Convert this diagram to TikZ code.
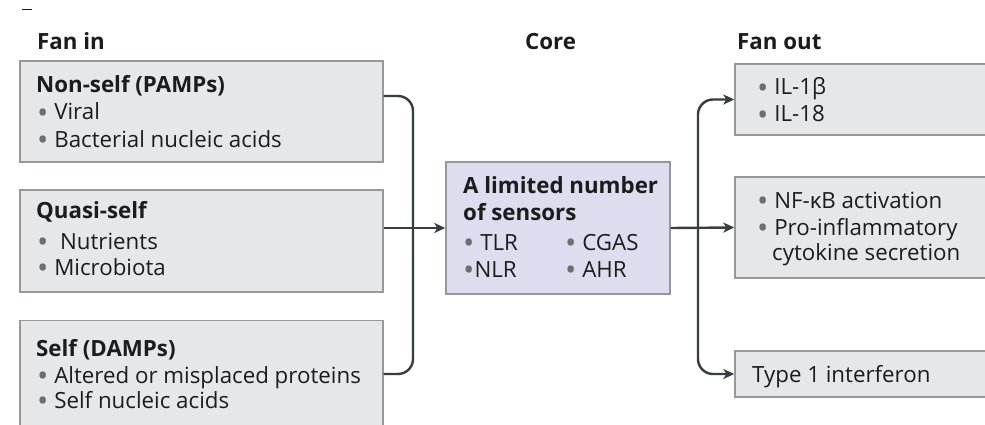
\documentclass[tikz,border=0pt]{standalone}
\usepackage{fontspec}
\usepackage{graphicx}
\setmainfont{Open Sans}
\usetikzlibrary{arrows.meta}

\definecolor{boxfill}{RGB}{229,231,233}
\definecolor{boxline}{RGB}{150,152,154}
\definecolor{corefill}{RGB}{220,222,240}
\definecolor{coreline}{RGB}{150,150,165}
\definecolor{ink}{RGB}{28,28,28}
\definecolor{dotgray}{RGB}{110,110,110}
\definecolor{wirecol}{RGB}{55,62,66}

\newcommand\bul{{\color{dotgray}\smash{\raisebox{-0.16em}{\scalebox{1.35}{\textbullet}}}}}

\tikzset{
  panel/.style={draw=boxline, fill=boxfill, line width=1.4pt, inner sep=0pt},
  corebox/.style={draw=coreline, fill=corefill, line width=1.4pt, inner sep=0pt},
  line/.style={anchor=base west, inner sep=0pt, text=ink, font=\fontsize{22.3}{26}\selectfont},
  head/.style={line, font=\fontsize{22.3}{26}\selectfont\bfseries},
  wire/.style={draw=wirecol, line width=2.4pt},
  tip/.style={-{Stealth[length=11pt,width=10pt,inset=3pt]}}
}

\begin{document}
\begin{tikzpicture}[x=1pt,y=-1pt]
\useasboundingbox (0,0) rectangle (985,425);
\clip (0,0) rectangle (985,425);
\fill[white] (0,0) rectangle (985,425);

% small mark in the corner
\draw[ink, line width=1pt] (22,10) -- (32,10);

% column headings
\node[head] (hin)   at (37,50)  {Fan in};
\node[head] (hcore) at (525,50) {Core};
\node[head] (hout)  at (737,50) {Fan out};

% fan-in panels
\node[panel, minimum width=363pt, minimum height=101pt] (b1) at (201.5,111.5) {};
\node[panel, minimum width=363pt, minimum height=102pt] (b2) at (201.5,241) {};
\node[panel, minimum width=363pt, minimum height=107pt] (b3) at (201.5,374) {};

\node[head] (b1t) at (36,93)  {Non-self (PAMPs)};
\node[line] (b1a) at (37,120) {\bul\ Viral};
\node[line] (b1b) at (37,147) {\bul\ Bacterial nucleic acids};

\node[head] (b2t) at (36,218) {Quasi-self};
\node[line] (b2a) at (37,249) {\bul\ \ Nutrients};
\node[line] (b2b) at (37,275) {\bul\ Microbiota};

\node[head] (b3t) at (36,356) {Self (DAMPs)};
\node[line] (b3a) at (37,383) {\bul\ Altered or misplaced proteins};
\node[line] (b3b) at (37,408) {\bul\ Self nucleic acids};

% core panel
\node[corebox, minimum width=224pt, minimum height=132pt] (core) at (558,228) {};
\node[head] (c1) at (463,193) {A limited number};
\node[head] (c2) at (463,220) {of sensors};
\node[line] (c3) at (463,250) {\bul\ TLR};
\node[line] (c4) at (463,277) {\bul NLR};
\node[line] (c5) at (565,250) {\bul\ CGAS};
\node[line] (c6) at (565,277) {\bul\ AHR};

% fan-out panels
\node[panel, minimum width=252pt, minimum height=71pt]  (o1) at (861,99.5) {};
\node[panel, minimum width=252pt, minimum height=101pt] (o2) at (861,227.5) {};
\node[panel, minimum width=252pt, minimum height=46pt]  (o3) at (861,374) {};

\node[line] (o1a) at (757,95)  {\bul\ IL-1β};
\node[line] (o1b) at (757,122) {\bul\ IL-18};
\node[line] (o2a) at (757,208) {\bul\ NF-κB activation};
\node[line] (o2b) at (757,235) {\bul\ Pro-inflammatory};
\node[line] (o2c) at (772,260) {cytokine secretion};
\node[line] (o3a) at (752,382) {Type 1 interferon};

% junctions of the two brackets
\coordinate (jl) at (413,228);
\coordinate (jr) at (698,228);

% fan-in bracket
\draw[wire, rounded corners=15pt] ([yshift=15.5pt]b1.east) -| (jl) |- (b3.east);
\draw[wire, tip] (b2.east |- core.west) -- (core.west);

% fan-out bracket
\draw[wire, tip] (core.east) -- (o2.west);
\draw[wire, tip, rounded corners=15pt] (jr) |- (o1.west);
\draw[wire, tip, rounded corners=15pt] (jr) |- (o3.west);
\end{tikzpicture}
\end{document}
